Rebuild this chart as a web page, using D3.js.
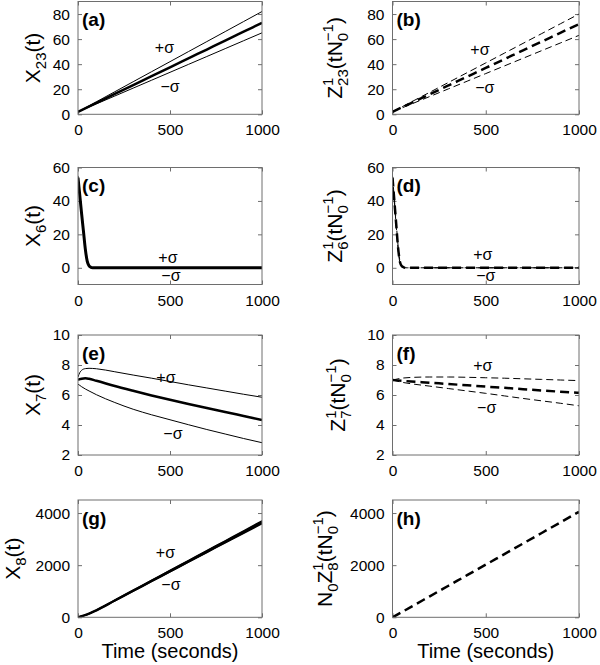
<!DOCTYPE html>
<html>
<head>
<meta charset="utf-8">
<script src="https://cdn.jsdelivr.net/npm/d3@7"></script>
<style>
  html, body { margin: 0; padding: 0; background: #fff; }
  svg { display: block; font-family: "Liberation Sans", Arial, Helvetica, sans-serif; }
</style>
</head>
<body>
<svg id="chart" width="600" height="665"></svg>
<script>
// ---------------- DATA ----------------
const xTicks = [0, 500, 1000];
const tGrid = [0, 100, 200, 300, 400, 500, 600, 700, 800, 900, 1000];

// (a) X23(t)
const x23Mean  = [2, 9.1, 16.2, 23.3, 30.4, 37.5, 44.6, 51.7, 58.8, 65.9, 73];
const x23Plus  = [2, 10, 18, 26, 34, 42, 50, 58, 66, 74, 82];
const x23Minus = [2, 8.3, 14.6, 20.9, 27.2, 33.5, 39.8, 46.1, 52.4, 58.7, 65];
// (b) Z23
const z23Mean  = [2, 9, 16, 23, 30, 37, 44, 51, 58, 65, 72];
const z23Plus  = [2, 9.8, 17.6, 25.4, 33.2, 41, 48.8, 56.6, 64.4, 72.2, 80];
const z23Minus = [2, 8.1, 14.2, 20.3, 26.4, 32.5, 38.6, 44.7, 50.8, 56.9, 63];

// (c), (d) decay
const tDecay = [0, 10, 20, 30, 40, 50, 60, 70, 80, 90, 100, 200, 400, 600, 800, 1000];
const x6Mean  = [54, 43, 32, 21.5, 11, 4, 1.2, 0.3, 0.05, 0, 0, 0, 0, 0, 0, 0];
const x6Plus  = [55, 44, 33, 22.5, 12, 4.6, 1.5, 0.4, 0.1, 0.02, 0, 0, 0, 0, 0, 0];
const x6Minus = [53, 42, 31, 20.5, 10, 3.4, 0.9, 0.2, 0, 0, 0, 0, 0, 0, 0, 0];
const z6Mean  = [54, 40, 26, 12, 3.5, 1, 0.3, 0.05, 0, 0, 0, 0, 0, 0, 0, 0];
const z6Plus  = [55, 41, 27, 13, 4, 1.2, 0.4, 0.1, 0, 0, 0, 0, 0, 0, 0, 0];
const z6Minus = [53, 39, 25, 11, 3, 0.8, 0.2, 0, 0, 0, 0, 0, 0, 0, 0, 0];

// (e) X7
const tE = [0, 10, 20, 40, 60, 100, 200, 300, 400, 500, 600, 700, 800, 900, 1000];
const x7Mean  = [7.0, 7.06, 7.09, 7.11, 7.08, 6.95, 6.6, 6.28, 5.97, 5.68, 5.4, 5.13, 4.87, 4.6, 4.33];
const x7Plus  = [7.2, 7.5, 7.65, 7.76, 7.78, 7.75, 7.55, 7.33, 7.12, 6.9, 6.68, 6.47, 6.26, 6.05, 5.85];
const x7Minus = [6.72, 6.64, 6.55, 6.4, 6.27, 6.02, 5.5, 5.05, 4.68, 4.35, 4.02, 3.7, 3.4, 3.1, 2.82];

// (f) Z7
const tF = [0, 50, 100, 200, 300, 400, 500, 600, 700, 800, 900, 1000];
const z7Mean  = [7.0, 6.95, 6.9, 6.82, 6.73, 6.65, 6.56, 6.48, 6.39, 6.3, 6.22, 6.15];
const z7Plus  = [7.0, 7.12, 7.17, 7.2, 7.2, 7.18, 7.15, 7.12, 7.08, 7.04, 7.0, 6.96];
const z7Minus = [7.0, 6.85, 6.75, 6.59, 6.43, 6.27, 6.11, 5.94, 5.77, 5.61, 5.45, 5.28];

// (g) X8
const tG = [0, 50, 100, 200, 300, 400, 500, 600, 700, 800, 900, 1000];
const x8Mean  = [0, 110, 270, 645, 1020, 1395, 1770, 2145, 2520, 2895, 3270, 3645];
const x8Plus  = [0, 112, 275, 655, 1035, 1415, 1795, 2175, 2555, 2935, 3315, 3700];
const x8Minus = [0, 108, 265, 635, 1005, 1375, 1745, 2115, 2485, 2855, 3225, 3590];

// (h) N0 Z8
const z8Mean = [0, 400, 805, 1210, 1615, 2020, 2425, 2830, 3235, 3640, 4050];

// y-axis ticks / domains
const yTicksA = [0, 20, 40, 60, 80];
const yTicksC = [0, 20, 40, 60];
const yTicksE = [2, 4, 6, 8, 10];
const yTicksG = [0, 2000, 4000];
const yDomA = [0, 90], yDomC = [-10, 60], yDomE = [2, 10], yDomG = [0, 4500];

// sigma annotation anchors [t, value] : [plus, minus]
const sigA = [[470, 49], [500, 17.8]];
const sigB = [[469, 47], [495, 16.9]];
const sigC = [[489, 2.8], [505, -8.0]];
const sigD = [[484, 4.6], [500, -8.0]];
const sigE = [[478, 6.8], [516, 3.07]];
const sigF = [[484, 7.6], [505, 4.8]];
const sigG = [[475, 2286], [505, 1061]];

// ---------------- LAYOUT ----------------
const cols = [{x0: 78, x1: 262}, {x0: 392.5, x1: 579}];
const rows = [{y0: 1.5, y1: 114.3}, {y0: 167.5, y1: 284.5}, {y0: 335, y1: 455}, {y0: 500, y1: 617.3}];
const S = (t, v) => t.map((d, i) => ({t: d, v: v[i]}));

const panels = [
  {tag: "(a)", c: 0, r: 0, dom: yDomA, ticks: yTicksA, dash: false, lblX: 40,
   label: [["X"], ["23", "sub"], ["(t)"]],
   series: [S(tGrid, x23Plus), S(tGrid, x23Minus)], mean: S(tGrid, x23Mean), sig: sigA},
  {tag: "(b)", c: 1, r: 0, dom: yDomA, ticks: yTicksA, dash: true, lblX: 342,
   label: "Z",
   series: [S(tGrid, z23Plus), S(tGrid, z23Minus)], mean: S(tGrid, z23Mean), sig: sigB, sub: "23"},
  {tag: "(c)", c: 0, r: 1, dom: yDomC, ticks: yTicksC, dash: false, lblX: 40,
   label: [["X"], ["6", "sub"], ["(t)"]],
   series: [S(tDecay, x6Plus), S(tDecay, x6Minus)], mean: S(tDecay, x6Mean), sig: sigC, meanW: 3},
  {tag: "(d)", c: 1, r: 1, dom: yDomC, ticks: yTicksC, dash: true, lblX: 342,
   label: "Z",
   series: [S(tDecay, z6Plus), S(tDecay, z6Minus)], mean: S(tDecay, z6Mean), sig: sigD, sub: "6"},
  {tag: "(e)", c: 0, r: 2, dom: yDomE, ticks: yTicksE, dash: false, lblX: 40,
   label: [["X"], ["7", "sub"], ["(t)"]],
   series: [S(tE, x7Plus), S(tE, x7Minus)], mean: S(tE, x7Mean), sig: sigE},
  {tag: "(f)", c: 1, r: 2, dom: yDomE, ticks: yTicksE, dash: true, lblX: 345,
   label: "Z",
   series: [S(tF, z7Plus), S(tF, z7Minus)], mean: S(tF, z7Mean), sig: sigF, sub: "7"},
  {tag: "(g)", c: 0, r: 3, dom: yDomG, ticks: yTicksG, dash: false, lblX: 20,
   label: [["X"], ["8", "sub"], ["(t)"]],
   series: [S(tG, x8Plus), S(tG, x8Minus)], mean: S(tG, x8Mean), sig: sigG, meanW: 2.5, sigW: 1.5, xTitle: true},
  {tag: "(h)", c: 1, r: 3, dom: yDomG, ticks: yTicksG, dash: true, lblX: 332,
   label: "NZ",
   series: [], mean: S(tGrid, z8Mean), sig: null, sub: "8", xTitle: true}
];

const svg = d3.select("#chart");
const boxColor = "#6e6e6e";
const tickLen = 4;

function addLabel(g, p, cx, cy) {
  const text = g.append("text")
    .attr("transform", `translate(${cx},${cy}) rotate(-90)`)
    .attr("text-anchor", "middle")
    .attr("font-size", 21)
    .attr("fill", "#000");
  const big = 21, small = 15, subDy = 6, supDy = -9;
  const add = (str, size, dx, dy) => {
    const ts = text.append("tspan").attr("font-size", size).text(str);
    if (dx) ts.attr("dx", dx);
    if (dy) ts.attr("dy", dy);
    return ts;
  };
  const stacked = (sub, sup) => {
    const a = add(sub, small, 0, subDy);
    const l1 = a.node().getComputedTextLength();
    const b = add(sup, small, -l1, supDy - subDy);
    const l2 = b.node().getComputedTextLength();
    return {rest: Math.max(0, l1 - l2), back: -supDy};
  };
  if (Array.isArray(p.label)) {
    add("X", big);
    add(p.label[1][0], small, 0, subDy);
    add("(t)", big, 0, -subDy);
  } else {
    if (p.label === "NZ") {
      add("N", big);
      add("0", small, 0, subDy);
      add("Z", big, 0, -subDy);
    } else {
      add("Z", big);
    }
    let s = stacked(p.sub, "1");
    add("(tN", big, s.rest, s.back);
    s = stacked("0", "\u22121");
    add(")", big, s.rest, s.back);
  }
}

panels.forEach(p => {
  const {x0, x1} = cols[p.c];
  const {y0, y1} = rows[p.r];
  const x = d3.scaleLinear().domain([0, 1000]).range([x0, x1]);
  const y = d3.scaleLinear().domain(p.dom).range([y1, y0]);
  const g = svg.append("g");

  const clipId = "clip" + p.tag.replace(/[()]/g, "");
  svg.append("clipPath").attr("id", clipId)
    .append("rect").attr("x", x0).attr("y", y0).attr("width", x1 - x0).attr("height", y1 - y0);

  const axB = d3.axisBottom(x).tickValues(xTicks).tickSize(-tickLen).tickPadding(6 + tickLen).tickFormat(d3.format("d"));
  const axT = d3.axisTop(x).tickValues(xTicks).tickSize(-tickLen).tickFormat("");
  const axL = d3.axisLeft(y).tickValues(p.ticks).tickSize(-tickLen).tickPadding(4 + tickLen).tickFormat(d3.format("d"));
  const axR = d3.axisRight(y).tickValues(p.ticks).tickSize(-tickLen).tickFormat("");

  const styleAxis = sel => {
    sel.select(".domain").remove();
    sel.selectAll(".tick line").attr("stroke", boxColor).attr("stroke-width", 1);
    sel.selectAll(".tick text").attr("fill", "#000").attr("font-size", 15.5)
      .attr("font-family", '"Liberation Sans", Arial, Helvetica, sans-serif');
  };
  g.append("g").attr("transform", `translate(0,${y1})`).call(axB).call(styleAxis);
  g.append("g").attr("transform", `translate(0,${y0})`).call(axT).call(styleAxis);
  g.append("g").attr("transform", `translate(${x0},0)`).call(axL).call(styleAxis);
  g.append("g").attr("transform", `translate(${x1},0)`).call(axR).call(styleAxis);

  const line = d3.line().x(d => x(d.t)).y(d => y(d.v)).curve(d3.curveMonotoneX);
  const cg = g.append("g").attr("clip-path", `url(#${clipId})`);
  p.series.forEach(s => {
    cg.append("path").attr("d", line(s)).attr("fill", "none").attr("stroke", "#000")
      .attr("stroke-width", p.sigW || 1)
      .attr("stroke-dasharray", p.dash ? "7,4" : null);
  });
  cg.append("path").attr("d", line(p.mean)).attr("fill", "none").attr("stroke", "#000")
    .attr("stroke-width", p.meanW || 2.5)
    .attr("stroke-dasharray", p.dash ? "9,5" : null);

  g.append("rect").attr("x", x0).attr("y", y0).attr("width", x1 - x0).attr("height", y1 - y0)
    .attr("fill", "none").attr("stroke", boxColor).attr("stroke-width", 1);

  g.append("text").attr("x", x0 + 4).attr("y", y0 + 24.5)
    .attr("font-size", 19).attr("font-weight", "bold").attr("fill", "#000").text(p.tag);

  if (p.sig) {
    ["+\u03c3", "\u2212\u03c3"].forEach((txt, i) => {
      g.append("text").attr("x", x(p.sig[i][0])).attr("y", y(p.sig[i][1]))
        .attr("text-anchor", "middle").attr("font-size", 16).attr("fill", "#000").text(txt);
    });
  }

  addLabel(g, p, p.lblX, (y0 + y1) / 2);

  if (p.xTitle) {
    g.append("text").attr("x", (x0 + x1) / 2).attr("y", 658)
      .attr("text-anchor", "middle").attr("font-size", 20).attr("fill", "#000").text("Time (seconds)");
  }
});
</script>
</body>
</html>
